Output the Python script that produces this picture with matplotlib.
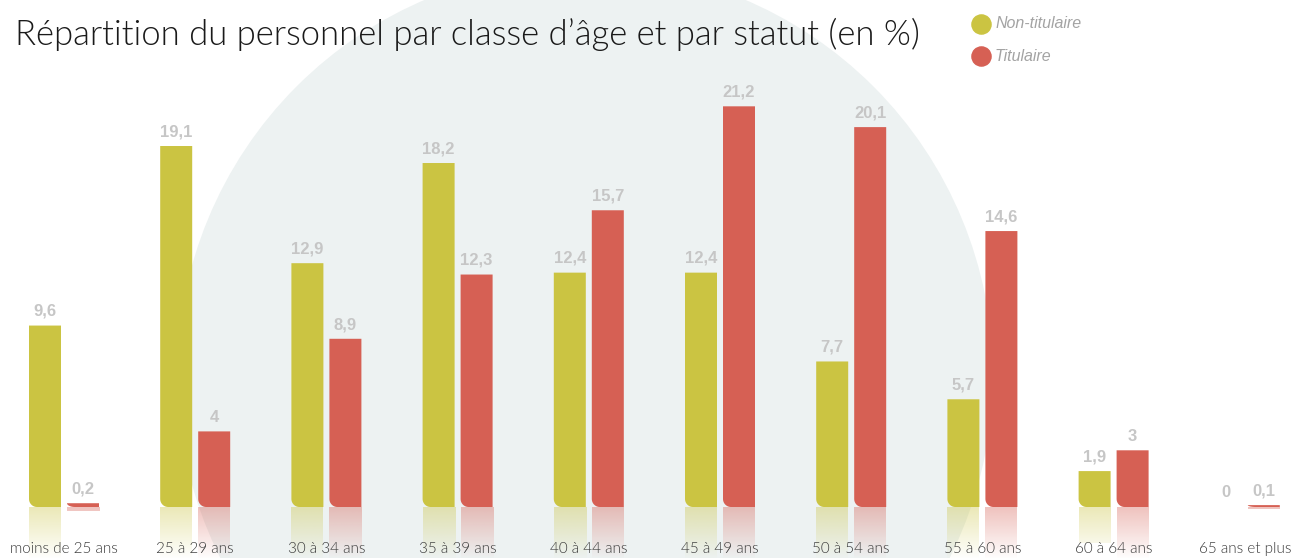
import numpy as np
import matplotlib
matplotlib.use("Agg")
import matplotlib.pyplot as plt
from matplotlib.patches import Polygon, Ellipse

# ==========================================
# DATA
# ==========================================

categories = ["moins de 25 ans", "25 à 29 ans", "30 à 34 ans", "35 à 39 ans",
              "40 à 44 ans", "45 à 49 ans", "50 à 54 ans", "55 à 60 ans",
              "60 à 64 ans", "65 ans et plus"]
non_titulaire = [9.6, 19.1, 12.9, 18.2, 12.4, 12.4, 7.7, 5.7, 1.9, 0]
titulaire = [0.2, 4, 8.9, 12.3, 15.7, 21.2, 20.1, 14.6, 3, 0.1]
series_names = ["Non-titulaire", "Titulaire"]

title = "Répartition du personnel par classe d’âge et par statut (en %)"

GREEN = "#cbc442"
RED = "#d66054"
LABEL_GRAY = "#c6c6c6"

# ==========================================
# FIGURE
# ==========================================

W, H = 1293, 558
fig = plt.figure(figsize=(W / 100, H / 100), dpi=100)
ax = fig.add_axes([0, 0, 1, 1])
ax.axis("off")

px_x = 131.2   # pixels per category
px_y = 18.9    # pixels per percent
x0_px = 64     # center of first group
base_px = 51   # baseline from bottom

xlim = (-x0_px / px_x, (W - x0_px) / px_x)
ylim = (-base_px / px_y, (H - base_px) / px_y)

# background circle
ax.add_patch(Ellipse((585 / W, 1 - 375 / H), 816 / W, 816 / H,
                     transform=ax.transAxes, facecolor="#edf2f2",
                     edgecolor="none", zorder=0))

x = np.arange(len(categories))
offset = 19 / px_x
width = 32 / px_x

rx = 8 / px_x
ry = 8 / px_y
fade = 2.8


def rounded_bar(rect, color):
    bx, by = rect.get_x(), rect.get_y()
    bw, bh = rect.get_width(), rect.get_height()
    rect.set_visible(False)
    if bh <= 0:
        return
    r_y = min(ry, bh)
    t = np.linspace(np.pi, 1.5 * np.pi, 12)
    arc = np.column_stack([bx + rx + rx * np.cos(t), by + r_y + r_y * np.sin(t)])
    pts = np.vstack([[bx, by + bh], arc, [bx + bw, by], [bx + bw, by + bh]])
    ax.add_patch(Polygon(pts, closed=True, facecolor=color,
                         edgecolor="none", zorder=2))

    # reflection below the baseline
    h_ref = min(bh, fade)
    n = 60
    d = np.linspace(0, h_ref, n)
    rgba = np.zeros((n, 1, 4))
    rgba[..., :3] = matplotlib.colors.to_rgb(color)
    rgba[:, 0, 3] = 0.38 * (1 - d / fade)
    ax.imshow(rgba, extent=(bx, bx + bw, by - h_ref, by), aspect="auto",
              origin="upper", zorder=1, interpolation="bilinear")


for vals, sign, color in [(non_titulaire, -1, GREEN), (titulaire, 1, RED)]:
    bars = ax.bar(x + sign * offset, vals, width=width, color=color)
    for rect, v in zip(bars, vals):
        rounded_bar(rect, color)
        ax.annotate(f"{v:g}".replace(".", ","),
                    (rect.get_x() + rect.get_width() / 2, v),
                    xytext=(0, 7), textcoords="offset points",
                    ha="center", va="baseline", color=LABEL_GRAY,
                    fontsize=12, fontweight="bold",
                    family="Liberation Sans", zorder=3)

# category labels
for xi, cat in zip(x, categories):
    ax.text(xi, -(553 - 507) / px_y, cat, ha="center", va="baseline",
            fontsize=11, color="#3a3a3a", family="Lato", fontweight=300,
            zorder=3)

ax.set_xlim(*xlim)
ax.set_ylim(*ylim)

# title
fig.text(15 / W, 1 - 45 / H, title, ha="left", va="baseline",
         fontsize=24.9, color="#1a1a1a", family="Lato", fontweight=300)

# legend
for i, (name, color) in enumerate(zip(series_names, [GREEN, RED])):
    yy = 1 - (24 + 32 * i) / H
    ax.scatter([981 / W], [yy], s=190, color=color, transform=ax.transAxes,
               zorder=4, clip_on=False)
    ax.text(995 / W, yy, name, transform=ax.transAxes, ha="left",
            va="center", fontsize=11.5, style="italic", color="#a3a3a3",
            family="Liberation Sans")

plt.savefig("out.png", dpi=100)
